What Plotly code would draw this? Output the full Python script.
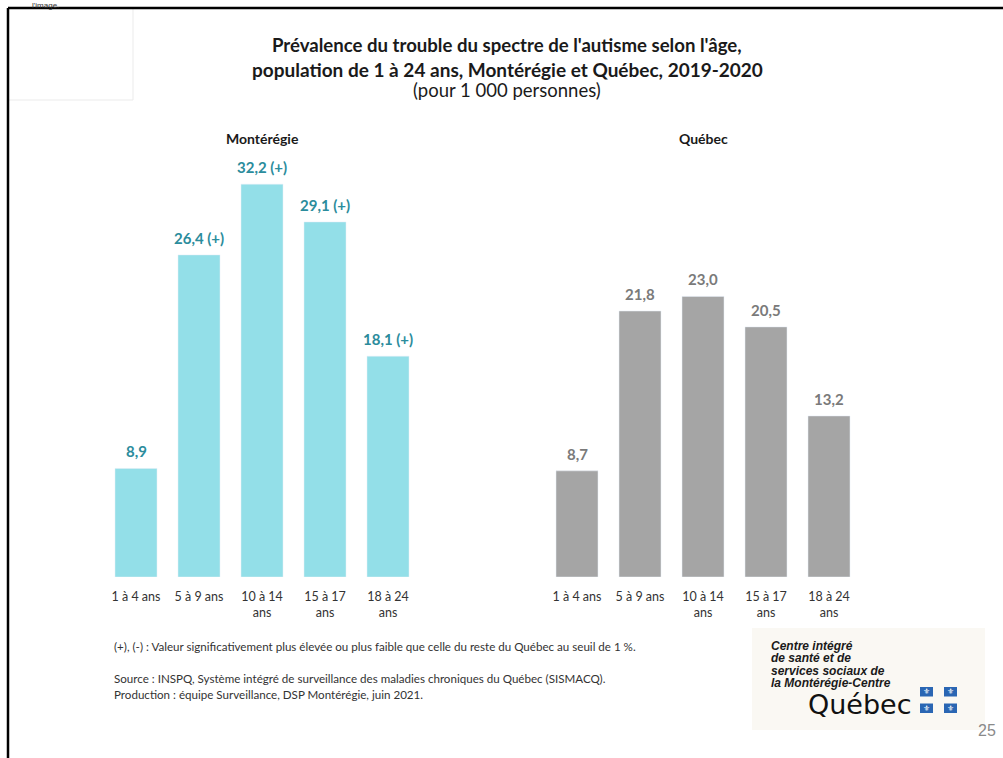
import plotly.graph_objects as go

W, H = 1003, 758

categories = ["1 à 4 ans", "5 à 9 ans", "10 à 14<br>ans", "15 à 17<br>ans", "18 à 24<br>ans"]
monteregie = [8.9, 26.4, 32.2, 29.1, 18.1]
monteregie_sig = ["", "(+)", "(+)", "(+)", "(+)"]
quebec = [8.7, 21.8, 23.0, 20.5, 13.2]
quebec_sig = ["", "", "", "", ""]

title_lines = [
    "Prévalence du trouble du spectre de l'autisme selon l'âge,",
    "population de 1 à 24 ans, Montérégie et Québec, 2019-2020",
]
subtitle = "(pour 1 000 personnes)"
panel_titles = ["Montérégie", "Québec"]
notes = [
    "(+), (-) : Valeur significativement plus élevée ou plus faible que celle du reste du Québec au seuil de 1 %.",
    "Source : INSPQ, Système intégré de surveillance des maladies chroniques du Québec (SISMACQ).",
    "Production : équipe Surveillance, DSP Montérégie, juin 2021.",
]
logo_lines = ["Centre intégré", "de santé et de", "services sociaux de", "la Montérégie-Centre"]

FONT = "Lato"
CYAN = "#93dfe8"
TEAL = "#2b8c9c"
GREY = "#a5a5a5"
GREY_TXT = "#7a7a7a"


def px(x):
    return x / W


def py(y):
    return 1 - y / H


def fmt(v, s):
    t = f"{v:.1f}".replace(".", ",")
    return (t + " " + s) if s else t


def note(x, y, text, font, xanchor="center", yanchor="middle"):
    return dict(x=px(x), y=py(y), xref="paper", yref="paper", text=text, showarrow=False,
                xanchor=xanchor, yanchor=yanchor, font=font)


fig = go.Figure()
fig.add_trace(go.Bar(x=categories, y=monteregie, marker_color=CYAN, xaxis="x", yaxis="y",
                     hoverinfo="skip", showlegend=False))
fig.add_trace(go.Bar(x=categories, y=quebec, marker_color=GREY, xaxis="x2", yaxis="y2",
                     hoverinfo="skip", showlegend=False))

annotations = []
for c, v, s in zip(categories, monteregie, monteregie_sig):
    annotations.append(dict(x=c, y=v, xref="x", yref="y", text=fmt(v, s), showarrow=False,
                            xanchor="center", yanchor="bottom", yshift=6,
                            font=dict(family=FONT, size=15, color=TEAL, weight="bold")))
for c, v, s in zip(categories, quebec, quebec_sig):
    annotations.append(dict(x=c, y=v, xref="x2", yref="y2", text=fmt(v, s), showarrow=False,
                            xanchor="center", yanchor="bottom", yshift=6,
                            font=dict(family=FONT, size=15, color=GREY_TXT, weight="bold")))

# titles
annotations.append(note(507, 45, title_lines[0], dict(family=FONT, size=18.6, color="#1a1a1a", weight="bold")))
annotations.append(note(507, 70, title_lines[1], dict(family=FONT, size=19, color="#1a1a1a", weight="bold")))
annotations.append(note(507, 90, subtitle, dict(family=FONT, size=18.5, color="#1a1a1a")))
annotations.append(note(262, 139, panel_titles[0], dict(family=FONT, size=14, color="#1a1a1a", weight="bold")))
annotations.append(note(703, 139, panel_titles[1], dict(family=FONT, size=14, color="#1a1a1a", weight="bold")))

# notes
for y, t in zip([646, 678, 694], notes):
    annotations.append(note(112, y, t, dict(family=FONT, size=11.6, color="#333333"), xanchor="left"))

# top-left placeholder text
annotations.append(note(30, 5, "l'image.", dict(family="Liberation Sans", size=8, color="#333333"),
                        xanchor="left"))

# logo text
for y, t in zip([645.5, 658, 670.5, 683], logo_lines):
    annotations.append(note(769, y, f"<b><i>{t}</i></b>",
                            dict(family="Liberation Sans", size=12, color="#1a1a1a"), xanchor="left"))
annotations.append(note(806, 704, "Québec", dict(family="DejaVu Sans", size=27, color="#111111"),
                        xanchor="left"))
annotations.append(note(998, 730, "25", dict(family="Liberation Sans", size=16, color="#8a8a8a"),
                        xanchor="right"))

shapes = [
    dict(type="rect", xref="paper", yref="paper", x0=px(752), x1=px(985), y0=py(730), y1=py(628),
         fillcolor="#faf8f3", line=dict(width=0), layer="below"),
    dict(type="rect", xref="paper", yref="paper", x0=px(8), x1=px(133), y0=py(100), y1=py(8),
         fillcolor="rgba(0,0,0,0)", line=dict(color="#ebebeb", width=1)),
    dict(type="line", xref="paper", yref="paper", x0=px(8), x1=1, y0=py(8), y1=py(8),
         line=dict(color="#000000", width=2.5)),
    dict(type="line", xref="paper", yref="paper", x0=px(8), x1=px(8), y0=py(8), y1=0,
         line=dict(color="#000000", width=2.5)),
]
# flags
for fx in (920, 944):
    for fy in (687, 703.5):
        shapes.append(dict(type="rect", xref="paper", yref="paper", x0=px(fx), x1=px(fx + 13),
                           y0=py(fy + 9.5), y1=py(fy), fillcolor="#2a66b3", line=dict(width=0)))
        annotations.append(note(fx + 6.5, fy + 4.8, "⚜",
                                dict(family="DejaVu Sans", size=8, color="white")))

axis_common = dict(showgrid=False, zeroline=False, showline=False, ticks="",
                   tickfont=dict(family=FONT, size=12.5, color="#333333"), ticklabelstandoff=10,
                   fixedrange=True)
yaxis_common = dict(range=[0, 35], visible=False, showgrid=False, zeroline=False, fixedrange=True,
                    domain=[py(577), py(150)])

fig.update_layout(
    width=W, height=H,
    margin=dict(l=0, r=0, t=0, b=0),
    paper_bgcolor="white", plot_bgcolor="rgba(0,0,0,0)",
    bargap=1 / 3,
    xaxis=dict(domain=[px(104.5), px(419.5)], anchor="y", **axis_common),
    yaxis=dict(anchor="x", **yaxis_common),
    xaxis2=dict(domain=[px(545.5), px(860.5)], anchor="y2", **axis_common),
    yaxis2=dict(anchor="x2", **yaxis_common),
    annotations=annotations,
    shapes=shapes,
    showlegend=False,
)

fig.write_html("out.html")
